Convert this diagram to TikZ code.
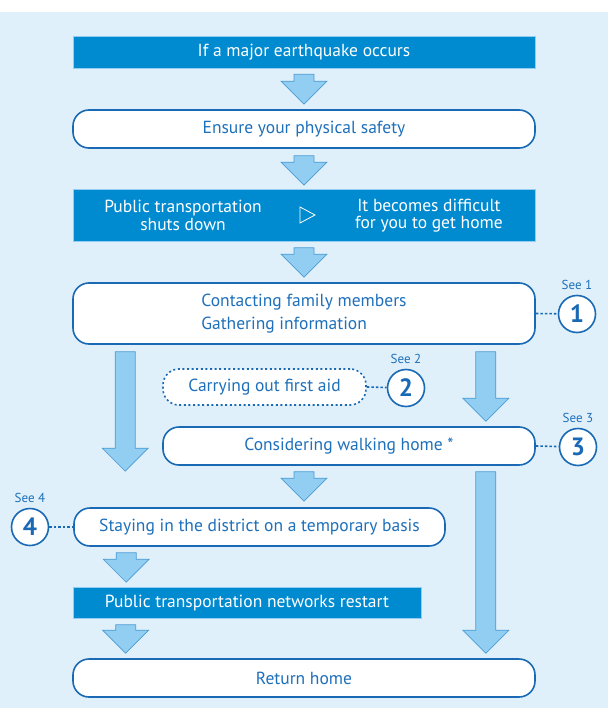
\documentclass[tikz,border=0pt]{standalone}
\usepackage{fontspec}
\setmainfont{PT Sans}
\usetikzlibrary{calc}

\definecolor{bgblue}{RGB}{223,240,250}
\definecolor{boxblue}{RGB}{0,138,207}
\definecolor{lineblue}{RGB}{25,105,180}
\definecolor{textblue}{RGB}{30,112,187}
\definecolor{arrowfill}{RGB}{146,206,241}
\definecolor{arrowline}{RGB}{75,155,213}

\tikzset{
	darkbox/.style={fill=boxblue, draw=arrowfill, line width=0.6pt, text=white, minimum width=#1, inner sep=0pt},
	pillbox/.style={fill=white, draw=lineblue, line width=1.6pt, rounded corners=16pt, text=textblue, minimum width=#1, inner sep=0pt},
	dashbox/.style={pillbox=#1, dash pattern=on 2pt off 2.6pt},
	seecircle/.style={circle, fill=white, draw=lineblue, line width=1.6pt, minimum size=37pt, inner sep=0pt, text=lineblue, font=\fontsize{25}{25}\selectfont\bfseries},
	seelabel/.style={text=textblue, font=\fontsize{13}{15}\selectfont},
	seelink/.style={draw=lineblue, line width=1.6pt, dash pattern=on 2.5pt off 2pt},
	flowarrow/.style={fill=arrowfill, draw=arrowline, line width=0.7pt}
}

% block arrow going down from #1 to the tip #2
\newcommand\blockarrow[2]{%
	\path[flowarrow] let \p1=(#1), \p2=(#2) in
	(\x1-10pt,\y1) -- (\x1+10pt,\y1) -- (\x1+10pt,\y2+23pt) -- (\x1+23pt,\y2+23pt)
	-- (\x1,\y2) -- (\x1-23pt,\y2+23pt) -- (\x1-10pt,\y2+23pt) -- cycle;}

\begin{document}
\begin{tikzpicture}[x=1pt, y=-1pt, font=\fontsize{17.5}{21}\selectfont]
	%background
	\useasboundingbox (0,0) rectangle (608,708);
	\fill[bgblue] (0,12) rectangle (608,708);
	%boxes
	\node[darkbox=462pt, minimum height=32pt] (quake) at (304,52) {If a major earthquake occurs};
	\node[pillbox=462pt, minimum height=38pt] (safety) at (304,129) {Ensure your physical safety};
	\node[darkbox=462pt, minimum height=52pt] (stop) at (304,215.5) {};
	\node[align=center, text=white, font=\fontsize{17.5}{17.5}\selectfont] (stopleft) at (183,215.5)
	{Public transportation\\shuts down};
	\node[align=center, text=white, font=\fontsize{17.5}{17.5}\selectfont] (stopright) at (429,215.5)
	{It becomes difficult\\for you to get home};
	\coordinate (then) at (307,215);
	\draw[white, line width=0.8pt] ($(then)+(-7,-8)$) -- ($(then)+(8,0)$) -- ($(then)+(-7,8)$) -- cycle;
	\node[pillbox=462pt, minimum height=61pt, align=left, font=\fontsize{17.5}{23}\selectfont] (contact) at (304,313.5)
	{Contacting family members\\Gathering information};
	\node[dashbox=203pt, minimum height=36pt] (aid) at (264.5,387) {Carrying out first aid};
	\node[pillbox=372pt, minimum height=38pt] (walk) at (349,446) {Considering walking home *};
	\node[pillbox=371pt, minimum height=38pt] (stay) at (259.5,527) {Staying in the district on a temporary basis};
	\node[darkbox=348pt, minimum height=31pt] (restart) at (247,603) {Public transportation networks restart};
	\node[pillbox=462pt, minimum height=38pt] (home) at (304,678) {Return home};
	%arrows
	\blockarrow{$(quake.south)+(0,6)$}{$(safety.north)+(0,-5)$}
	\blockarrow{$(safety.south)+(0,7)$}{$(stop.north)+(0,-4)$}
	\blockarrow{$(stop.south)+(0,6)$}{$(contact.north)+(0,-5)$}
	\blockarrow{$(contact.south west)+(53,7)$}{$(stay.north)+(0,-36)$}
	\blockarrow{$(contact.south east)+(-50,7)$}{$(walk.north)+(0,-5)$}
	\blockarrow{$(walk.south -| safety.south)+(0,6)$}{$(stay.north)+(0,-6)$}
	\blockarrow{$(walk.south east)+(-50,6)$}{$(home.north)+(0,-5)$}
	\blockarrow{$(stay.south west)+(53,6)$}{$(restart.north)+(0,-5)$}
	\blockarrow{$(restart.south west)+(53,6)$}{$(home.north)+(0,-5)$}
	%see circles
	\foreach \n/\cx/\cy in {1/577/314, 2/406/388, 3/578/447, 4/30/527}{
		\node[seecircle] (see\n) at (\cx,\cy) {\n};
		\node[seelabel] (seetext\n) at ($(see\n.north)+(0,-10)$) {See \n};
	}
	\draw[seelink] (contact.east) -- (see1);
	\draw[seelink] (aid.east) -- (see2);
	\draw[seelink] (walk.east) -- (see3);
	\draw[seelink] (see4) -- (stay.west);
\end{tikzpicture}
\end{document}
